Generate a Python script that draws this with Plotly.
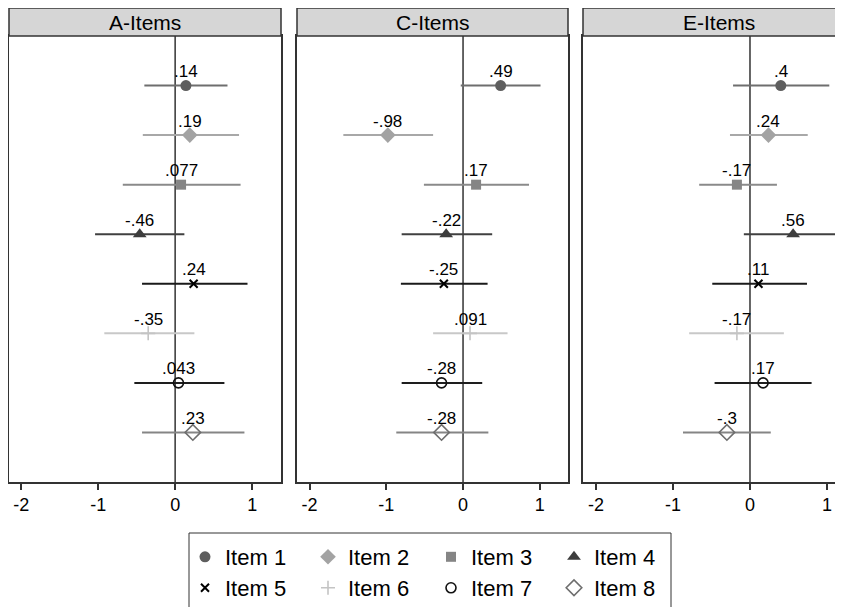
import plotly.graph_objects as go

# The page body has an 8px default margin; the figure fills the rest of the window.
OFF = 8
W, H = 843 - OFF, 607 - OFF

# ---------------- data ----------------
items = ["Item 1", "Item 2", "Item 3", "Item 4", "Item 5", "Item 6", "Item 7", "Item 8"]
rows = [1, 2, 3, 4, 5, 6, 7, 8]
panels = ["A-Items", "C-Items", "E-Items"]
tick_vals = [-2, -1, 0, 1]
tick_text = ["-2", "-1", "0", "1"]

A_est = [0.14, 0.19, 0.077, -0.46, 0.24, -0.35, 0.043, 0.23]
A_lo = [-0.40, -0.42, -0.68, -1.04, -0.43, -0.92, -0.53, -0.43]
A_hi = [0.68, 0.83, 0.85, 0.12, 0.94, 0.25, 0.64, 0.90]

C_est = [0.49, -0.98, 0.17, -0.22, -0.25, 0.091, -0.28, -0.28]
C_lo = [-0.03, -1.56, -0.51, -0.80, -0.81, -0.39, -0.80, -0.87]
C_hi = [1.01, -0.39, 0.86, 0.38, 0.32, 0.58, 0.25, 0.33]

E_est = [0.4, 0.24, -0.17, 0.56, 0.11, -0.17, 0.17, -0.3]
E_lo = [-0.22, -0.26, -0.66, -0.08, -0.49, -0.79, -0.46, -0.87]
E_hi = [1.03, 0.75, 0.35, 1.20, 0.74, 0.44, 0.80, 0.27]

# ---------------- styles ----------------
FONT = "Liberation Sans, Arial, sans-serif"
AX = "#333333"
symbols = ["circle", "diamond", "square", "triangle-up", "x-thin", "cross-thin", "circle-open", "diamond-open"]
marker_colors = ["#5e5e5e", "#a3a3a3", "#858585", "#3d3d3d", "#000000", "#c4c4c4", "#111111", "#6e6e6e"]
line_colors = ["#6e6e6e", "#a8a8a8", "#8a8a8a", "#404040", "#1a1a1a", "#c8c8c8", "#1e1e1e", "#858585"]
sizes = [11, 12, 10, 12, 8, 10, 10, 12]
mline_w = [0, 0, 0, 0, 2, 1.6, 1.6, 1.6]


def PX(sx):
    return (sx - OFF) / W


def PY(sy):
    return 1 - (sy - OFF) / H


# panel geometry in screen pixels
px_left = [9, 297, 583]
px_right = [281, 568, 843]
xr = [[-2.158, 1.375], [-2.164, 1.368], [-2.169, 1.208]]
hdr_right = [281, 568, 855]
top_px, hdr_top_px, bot_px = 36, 8, 482

data = [(A_est, A_lo, A_hi), (C_est, C_lo, C_hi), (E_est, E_lo, E_hi)]


def fmt(v):
    s = f"{v:g}"
    return s.replace("0.", ".", 1)


fig = go.Figure()
annotations = []
shapes = []

for p in range(3):
    est, lo, hi = data[p]
    xa = "x" if p == 0 else f"x{p+1}"
    ya = "y" if p == 0 else f"y{p+1}"
    for i in range(8):
        fig.add_trace(go.Scatter(
            x=[lo[i], hi[i]], y=[rows[i], rows[i]], mode="lines",
            line=dict(color=line_colors[i], width=2),
            xaxis=xa, yaxis=ya, showlegend=False, hoverinfo="skip"))
    for i in range(8):
        fig.add_trace(go.Scatter(
            x=[est[i]], y=[rows[i]], mode="markers", name=items[i],
            marker=dict(symbol=symbols[i], size=sizes[i], color=marker_colors[i],
                        line=dict(color=marker_colors[i], width=mline_w[i])),
            xaxis=xa, yaxis=ya, showlegend=(p == 0),
            legend=("legend" if i < 4 else "legend2")))
        annotations.append(dict(
            x=est[i], y=rows[i], xref=xa, yref=ya, text=fmt(est[i]),
            showarrow=False, yshift=14, yanchor="middle",
            font=dict(family=FONT, size=17, color="#000000")))
    # zero reference line
    shapes.append(dict(type="line", xref=xa, yref=f"{ya} domain", x0=0, x1=0, y0=0, y1=1,
                       line=dict(color=AX, width=1.5), layer="below"))
    # header strip
    shapes.append(dict(type="rect", xref="paper", yref="paper",
                       x0=PX(px_left[p]), x1=PX(hdr_right[p]),
                       y0=PY(top_px), y1=PY(hdr_top_px),
                       fillcolor="#d6d6d6", line=dict(color=AX, width=1.5), layer="above"))
    annotations.append(dict(
        x=PX((px_left[p] + hdr_right[p]) / 2), y=PY((top_px + hdr_top_px) / 2),
        xref="paper", yref="paper", text=panels[p], showarrow=False,
        xanchor="center", yanchor="middle",
        font=dict(family=FONT, size=21, color="#000000")))

# legend frame
shapes.append(dict(type="rect", xref="paper", yref="paper",
                   x0=PX(189), x1=PX(671), y0=PY(625), y1=PY(533),
                   line=dict(color=AX, width=1), fillcolor="rgba(0,0,0,0)", layer="above"))

leg_common = dict(orientation="h", x=PX(185), xanchor="left", yanchor="middle",
                  entrywidth=78, entrywidthmode="pixels", borderwidth=0,
                  bgcolor="rgba(0,0,0,0)", font=dict(family=FONT, size=22))

layout = dict(
    width=W, height=H,
    margin=dict(l=0, r=0, t=0, b=0, autoexpand=False),
    paper_bgcolor="white", plot_bgcolor="white",
    font=dict(family=FONT, color="#000000"),
    annotations=annotations, shapes=shapes,
    legend=dict(y=PY(557), **leg_common),
    legend2=dict(y=PY(588), **leg_common),
)

for p in range(3):
    xk = "xaxis" if p == 0 else f"xaxis{p+1}"
    yk = "yaxis" if p == 0 else f"yaxis{p+1}"
    ya = "y" if p == 0 else f"y{p+1}"
    xa = "x" if p == 0 else f"x{p+1}"
    layout[xk] = dict(
        domain=[PX(px_left[p]), min(1.0, PX(px_right[p]))], range=xr[p], anchor=ya,
        tickvals=tick_vals, ticktext=tick_text, ticks="outside", ticklen=6, tickwidth=1.5,
        tickcolor=AX, showline=True, linecolor=AX, linewidth=1.5, mirror=True,
        showgrid=False, zeroline=False, tickfont=dict(family=FONT, size=18, color="#000000"))
    layout[yk] = dict(
        domain=[PY(bot_px), PY(top_px)], range=[9, 0], anchor=xa,
        showticklabels=False, ticks="", showline=True, linecolor=AX, linewidth=1.5,
        mirror=(p < 2), showgrid=False, zeroline=False)

fig.update_layout(**layout)
fig.write_html("out.html")
